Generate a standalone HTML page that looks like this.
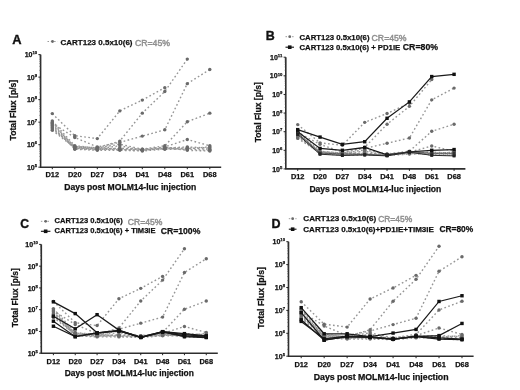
<!DOCTYPE html>
<html><head><meta charset="utf-8"><style>
html,body{margin:0;padding:0;background:#fff;}
body{width:520px;height:390px;overflow:hidden;}
svg{display:block;font-family:"Liberation Sans", sans-serif;filter:blur(0.4px);}

</style></head><body>
<svg width="520" height="390" viewBox="0 0 520 390">
<rect width="520" height="390" fill="#fff"/>
<polyline points="52.30,113.60 74.80,135.67 97.30,138.60 119.80,110.90 142.30,100.09 164.80,87.70" fill="none" stroke="#969696" stroke-width="1.4" stroke-dasharray="1.7 2.4"/>
<polyline points="52.30,121.03 74.80,145.81 97.30,148.06 119.80,141.08 142.30,113.15 164.80,91.53 187.30,59.10" fill="none" stroke="#969696" stroke-width="1.4" stroke-dasharray="1.7 2.4"/>
<polyline points="52.30,123.29 74.80,137.47 97.30,146.93 119.80,142.43 142.30,136.12 164.80,129.82 187.30,83.65 209.80,69.46" fill="none" stroke="#969696" stroke-width="1.4" stroke-dasharray="1.7 2.4"/>
<polyline points="52.30,125.54 74.80,146.93 97.30,148.06 119.80,144.23 142.30,149.18 164.80,145.81 187.30,121.71 209.80,113.15" fill="none" stroke="#969696" stroke-width="1.4" stroke-dasharray="1.7 2.4"/>
<polyline points="52.30,127.79 74.80,148.06 97.30,149.18 119.80,148.06 142.30,149.63 164.80,146.93 187.30,139.50 209.80,145.81" fill="none" stroke="#969696" stroke-width="1.4" stroke-dasharray="1.7 2.4"/>
<polyline points="52.30,124.41 74.80,146.48 97.30,147.83 119.80,149.18 142.30,150.31 164.80,148.06 187.30,146.93 209.80,148.06" fill="none" stroke="#969696" stroke-width="1.4" stroke-dasharray="1.7 2.4"/>
<polyline points="52.30,126.66 74.80,149.18 97.30,150.31 119.80,150.31 142.30,150.99 164.80,149.18 187.30,149.18 209.80,150.31" fill="none" stroke="#969696" stroke-width="1.4" stroke-dasharray="1.7 2.4"/>
<polyline points="52.30,130.27 74.80,147.83 97.30,149.18 119.80,149.63 142.30,150.31 164.80,148.06 187.30,148.06 209.80,149.18" fill="none" stroke="#969696" stroke-width="1.4" stroke-dasharray="1.7 2.4"/>
<polyline points="52.30,122.16 74.80,148.73 97.30,149.63 119.80,148.73 142.30,149.18 164.80,147.38 187.30,150.31 209.80,150.99" fill="none" stroke="#969696" stroke-width="1.4" stroke-dasharray="1.7 2.4"/>
<polyline points="52.30,128.92 74.80,146.93 97.30,148.73 119.80,145.81 142.30,150.08 164.80,148.73 187.30,148.73 209.80,146.93" fill="none" stroke="#969696" stroke-width="1.4" stroke-dasharray="1.7 2.4"/>
<circle cx="52.30" cy="113.60" r="1.7" fill="#6a6a6a"/>
<circle cx="74.80" cy="135.67" r="1.7" fill="#6a6a6a"/>
<circle cx="97.30" cy="138.60" r="1.7" fill="#6a6a6a"/>
<circle cx="119.80" cy="110.90" r="1.7" fill="#6a6a6a"/>
<circle cx="142.30" cy="100.09" r="1.7" fill="#6a6a6a"/>
<circle cx="164.80" cy="87.70" r="1.7" fill="#6a6a6a"/>
<circle cx="52.30" cy="121.03" r="1.7" fill="#6a6a6a"/>
<circle cx="74.80" cy="145.81" r="1.7" fill="#6a6a6a"/>
<circle cx="97.30" cy="148.06" r="1.7" fill="#6a6a6a"/>
<circle cx="119.80" cy="141.08" r="1.7" fill="#6a6a6a"/>
<circle cx="142.30" cy="113.15" r="1.7" fill="#6a6a6a"/>
<circle cx="164.80" cy="91.53" r="1.7" fill="#6a6a6a"/>
<circle cx="187.30" cy="59.10" r="1.7" fill="#6a6a6a"/>
<circle cx="52.30" cy="123.29" r="1.7" fill="#6a6a6a"/>
<circle cx="74.80" cy="137.47" r="1.7" fill="#6a6a6a"/>
<circle cx="97.30" cy="146.93" r="1.7" fill="#6a6a6a"/>
<circle cx="119.80" cy="142.43" r="1.7" fill="#6a6a6a"/>
<circle cx="142.30" cy="136.12" r="1.7" fill="#6a6a6a"/>
<circle cx="164.80" cy="129.82" r="1.7" fill="#6a6a6a"/>
<circle cx="187.30" cy="83.65" r="1.7" fill="#6a6a6a"/>
<circle cx="209.80" cy="69.46" r="1.7" fill="#6a6a6a"/>
<circle cx="52.30" cy="125.54" r="1.7" fill="#6a6a6a"/>
<circle cx="74.80" cy="146.93" r="1.7" fill="#6a6a6a"/>
<circle cx="97.30" cy="148.06" r="1.7" fill="#6a6a6a"/>
<circle cx="119.80" cy="144.23" r="1.7" fill="#6a6a6a"/>
<circle cx="142.30" cy="149.18" r="1.7" fill="#6a6a6a"/>
<circle cx="164.80" cy="145.81" r="1.7" fill="#6a6a6a"/>
<circle cx="187.30" cy="121.71" r="1.7" fill="#6a6a6a"/>
<circle cx="209.80" cy="113.15" r="1.7" fill="#6a6a6a"/>
<circle cx="52.30" cy="127.79" r="1.7" fill="#6a6a6a"/>
<circle cx="74.80" cy="148.06" r="1.7" fill="#6a6a6a"/>
<circle cx="97.30" cy="149.18" r="1.7" fill="#6a6a6a"/>
<circle cx="119.80" cy="148.06" r="1.7" fill="#6a6a6a"/>
<circle cx="142.30" cy="149.63" r="1.7" fill="#6a6a6a"/>
<circle cx="164.80" cy="146.93" r="1.7" fill="#6a6a6a"/>
<circle cx="187.30" cy="139.50" r="1.7" fill="#6a6a6a"/>
<circle cx="209.80" cy="145.81" r="1.7" fill="#6a6a6a"/>
<circle cx="52.30" cy="124.41" r="1.7" fill="#6a6a6a"/>
<circle cx="74.80" cy="146.48" r="1.7" fill="#6a6a6a"/>
<circle cx="97.30" cy="147.83" r="1.7" fill="#6a6a6a"/>
<circle cx="119.80" cy="149.18" r="1.7" fill="#6a6a6a"/>
<circle cx="142.30" cy="150.31" r="1.7" fill="#6a6a6a"/>
<circle cx="164.80" cy="148.06" r="1.7" fill="#6a6a6a"/>
<circle cx="187.30" cy="146.93" r="1.7" fill="#6a6a6a"/>
<circle cx="209.80" cy="148.06" r="1.7" fill="#6a6a6a"/>
<circle cx="52.30" cy="126.66" r="1.7" fill="#6a6a6a"/>
<circle cx="74.80" cy="149.18" r="1.7" fill="#6a6a6a"/>
<circle cx="97.30" cy="150.31" r="1.7" fill="#6a6a6a"/>
<circle cx="119.80" cy="150.31" r="1.7" fill="#6a6a6a"/>
<circle cx="142.30" cy="150.99" r="1.7" fill="#6a6a6a"/>
<circle cx="164.80" cy="149.18" r="1.7" fill="#6a6a6a"/>
<circle cx="187.30" cy="149.18" r="1.7" fill="#6a6a6a"/>
<circle cx="209.80" cy="150.31" r="1.7" fill="#6a6a6a"/>
<circle cx="52.30" cy="130.27" r="1.7" fill="#6a6a6a"/>
<circle cx="74.80" cy="147.83" r="1.7" fill="#6a6a6a"/>
<circle cx="97.30" cy="149.18" r="1.7" fill="#6a6a6a"/>
<circle cx="119.80" cy="149.63" r="1.7" fill="#6a6a6a"/>
<circle cx="142.30" cy="150.31" r="1.7" fill="#6a6a6a"/>
<circle cx="164.80" cy="148.06" r="1.7" fill="#6a6a6a"/>
<circle cx="187.30" cy="148.06" r="1.7" fill="#6a6a6a"/>
<circle cx="209.80" cy="149.18" r="1.7" fill="#6a6a6a"/>
<circle cx="52.30" cy="122.16" r="1.7" fill="#6a6a6a"/>
<circle cx="74.80" cy="148.73" r="1.7" fill="#6a6a6a"/>
<circle cx="97.30" cy="149.63" r="1.7" fill="#6a6a6a"/>
<circle cx="119.80" cy="148.73" r="1.7" fill="#6a6a6a"/>
<circle cx="142.30" cy="149.18" r="1.7" fill="#6a6a6a"/>
<circle cx="164.80" cy="147.38" r="1.7" fill="#6a6a6a"/>
<circle cx="187.30" cy="150.31" r="1.7" fill="#6a6a6a"/>
<circle cx="209.80" cy="150.99" r="1.7" fill="#6a6a6a"/>
<circle cx="52.30" cy="128.92" r="1.7" fill="#6a6a6a"/>
<circle cx="74.80" cy="146.93" r="1.7" fill="#6a6a6a"/>
<circle cx="97.30" cy="148.73" r="1.7" fill="#6a6a6a"/>
<circle cx="119.80" cy="145.81" r="1.7" fill="#6a6a6a"/>
<circle cx="142.30" cy="150.08" r="1.7" fill="#6a6a6a"/>
<circle cx="164.80" cy="148.73" r="1.7" fill="#6a6a6a"/>
<circle cx="187.30" cy="148.73" r="1.7" fill="#6a6a6a"/>
<circle cx="209.80" cy="146.93" r="1.7" fill="#6a6a6a"/>
<line x1="40.60" y1="54.60" x2="40.60" y2="167.20" stroke="#2e2e2e" stroke-width="1.6"/>
<line x1="40.00" y1="167.20" x2="221.20" y2="167.20" stroke="#2e2e2e" stroke-width="1.6"/>
<line x1="38.40" y1="167.20" x2="40.60" y2="167.20" stroke="#222" stroke-width="1"/>
<line x1="39.40" y1="160.42" x2="40.60" y2="160.42" stroke="#444" stroke-width="0.6"/>
<line x1="39.40" y1="156.46" x2="40.60" y2="156.46" stroke="#444" stroke-width="0.6"/>
<line x1="39.40" y1="153.64" x2="40.60" y2="153.64" stroke="#444" stroke-width="0.6"/>
<line x1="39.40" y1="151.46" x2="40.60" y2="151.46" stroke="#444" stroke-width="0.6"/>
<line x1="39.40" y1="149.68" x2="40.60" y2="149.68" stroke="#444" stroke-width="0.6"/>
<line x1="39.40" y1="148.17" x2="40.60" y2="148.17" stroke="#444" stroke-width="0.6"/>
<line x1="39.40" y1="146.86" x2="40.60" y2="146.86" stroke="#444" stroke-width="0.6"/>
<line x1="39.40" y1="145.71" x2="40.60" y2="145.71" stroke="#444" stroke-width="0.6"/>
<text x="37.10" y="169.80" font-size="7" font-weight="bold" fill="#111" text-anchor="end" stroke="#111" stroke-width="0.25"><tspan>10</tspan><tspan font-size="4.2" dy="-2.9">5</tspan></text>
<line x1="38.40" y1="144.68" x2="40.60" y2="144.68" stroke="#222" stroke-width="1"/>
<line x1="39.40" y1="137.90" x2="40.60" y2="137.90" stroke="#444" stroke-width="0.6"/>
<line x1="39.40" y1="133.94" x2="40.60" y2="133.94" stroke="#444" stroke-width="0.6"/>
<line x1="39.40" y1="131.12" x2="40.60" y2="131.12" stroke="#444" stroke-width="0.6"/>
<line x1="39.40" y1="128.94" x2="40.60" y2="128.94" stroke="#444" stroke-width="0.6"/>
<line x1="39.40" y1="127.16" x2="40.60" y2="127.16" stroke="#444" stroke-width="0.6"/>
<line x1="39.40" y1="125.65" x2="40.60" y2="125.65" stroke="#444" stroke-width="0.6"/>
<line x1="39.40" y1="124.34" x2="40.60" y2="124.34" stroke="#444" stroke-width="0.6"/>
<line x1="39.40" y1="123.19" x2="40.60" y2="123.19" stroke="#444" stroke-width="0.6"/>
<text x="37.10" y="147.28" font-size="7" font-weight="bold" fill="#111" text-anchor="end" stroke="#111" stroke-width="0.25"><tspan>10</tspan><tspan font-size="4.2" dy="-2.9">6</tspan></text>
<line x1="38.40" y1="122.16" x2="40.60" y2="122.16" stroke="#222" stroke-width="1"/>
<line x1="39.40" y1="115.38" x2="40.60" y2="115.38" stroke="#444" stroke-width="0.6"/>
<line x1="39.40" y1="111.42" x2="40.60" y2="111.42" stroke="#444" stroke-width="0.6"/>
<line x1="39.40" y1="108.60" x2="40.60" y2="108.60" stroke="#444" stroke-width="0.6"/>
<line x1="39.40" y1="106.42" x2="40.60" y2="106.42" stroke="#444" stroke-width="0.6"/>
<line x1="39.40" y1="104.64" x2="40.60" y2="104.64" stroke="#444" stroke-width="0.6"/>
<line x1="39.40" y1="103.13" x2="40.60" y2="103.13" stroke="#444" stroke-width="0.6"/>
<line x1="39.40" y1="101.82" x2="40.60" y2="101.82" stroke="#444" stroke-width="0.6"/>
<line x1="39.40" y1="100.67" x2="40.60" y2="100.67" stroke="#444" stroke-width="0.6"/>
<text x="37.10" y="124.76" font-size="7" font-weight="bold" fill="#111" text-anchor="end" stroke="#111" stroke-width="0.25"><tspan>10</tspan><tspan font-size="4.2" dy="-2.9">7</tspan></text>
<line x1="38.40" y1="99.64" x2="40.60" y2="99.64" stroke="#222" stroke-width="1"/>
<line x1="39.40" y1="92.86" x2="40.60" y2="92.86" stroke="#444" stroke-width="0.6"/>
<line x1="39.40" y1="88.90" x2="40.60" y2="88.90" stroke="#444" stroke-width="0.6"/>
<line x1="39.40" y1="86.08" x2="40.60" y2="86.08" stroke="#444" stroke-width="0.6"/>
<line x1="39.40" y1="83.90" x2="40.60" y2="83.90" stroke="#444" stroke-width="0.6"/>
<line x1="39.40" y1="82.12" x2="40.60" y2="82.12" stroke="#444" stroke-width="0.6"/>
<line x1="39.40" y1="80.61" x2="40.60" y2="80.61" stroke="#444" stroke-width="0.6"/>
<line x1="39.40" y1="79.30" x2="40.60" y2="79.30" stroke="#444" stroke-width="0.6"/>
<line x1="39.40" y1="78.15" x2="40.60" y2="78.15" stroke="#444" stroke-width="0.6"/>
<text x="37.10" y="102.24" font-size="7" font-weight="bold" fill="#111" text-anchor="end" stroke="#111" stroke-width="0.25"><tspan>10</tspan><tspan font-size="4.2" dy="-2.9">8</tspan></text>
<line x1="38.40" y1="77.12" x2="40.60" y2="77.12" stroke="#222" stroke-width="1"/>
<line x1="39.40" y1="70.34" x2="40.60" y2="70.34" stroke="#444" stroke-width="0.6"/>
<line x1="39.40" y1="66.38" x2="40.60" y2="66.38" stroke="#444" stroke-width="0.6"/>
<line x1="39.40" y1="63.56" x2="40.60" y2="63.56" stroke="#444" stroke-width="0.6"/>
<line x1="39.40" y1="61.38" x2="40.60" y2="61.38" stroke="#444" stroke-width="0.6"/>
<line x1="39.40" y1="59.60" x2="40.60" y2="59.60" stroke="#444" stroke-width="0.6"/>
<line x1="39.40" y1="58.09" x2="40.60" y2="58.09" stroke="#444" stroke-width="0.6"/>
<line x1="39.40" y1="56.78" x2="40.60" y2="56.78" stroke="#444" stroke-width="0.6"/>
<line x1="39.40" y1="55.63" x2="40.60" y2="55.63" stroke="#444" stroke-width="0.6"/>
<text x="37.10" y="79.72" font-size="7" font-weight="bold" fill="#111" text-anchor="end" stroke="#111" stroke-width="0.25"><tspan>10</tspan><tspan font-size="4.2" dy="-2.9">9</tspan></text>
<line x1="38.40" y1="54.60" x2="40.60" y2="54.60" stroke="#222" stroke-width="1"/>
<text x="37.10" y="57.20" font-size="7" font-weight="bold" fill="#111" text-anchor="end" stroke="#111" stroke-width="0.25"><tspan>10</tspan><tspan font-size="4.2" dy="-2.9">10</tspan></text>
<line x1="52.30" y1="167.20" x2="52.30" y2="169.20" stroke="#222" stroke-width="1"/>
<text x="52.30" y="177.40" font-size="7.4" font-weight="bold" fill="#111" text-anchor="middle"  stroke="#111" stroke-width="0.25">D12</text>
<line x1="74.80" y1="167.20" x2="74.80" y2="169.20" stroke="#222" stroke-width="1"/>
<text x="74.80" y="177.40" font-size="7.4" font-weight="bold" fill="#111" text-anchor="middle"  stroke="#111" stroke-width="0.25">D20</text>
<line x1="97.30" y1="167.20" x2="97.30" y2="169.20" stroke="#222" stroke-width="1"/>
<text x="97.30" y="177.40" font-size="7.4" font-weight="bold" fill="#111" text-anchor="middle"  stroke="#111" stroke-width="0.25">D27</text>
<line x1="119.80" y1="167.20" x2="119.80" y2="169.20" stroke="#222" stroke-width="1"/>
<text x="119.80" y="177.40" font-size="7.4" font-weight="bold" fill="#111" text-anchor="middle"  stroke="#111" stroke-width="0.25">D34</text>
<line x1="142.30" y1="167.20" x2="142.30" y2="169.20" stroke="#222" stroke-width="1"/>
<text x="142.30" y="177.40" font-size="7.4" font-weight="bold" fill="#111" text-anchor="middle"  stroke="#111" stroke-width="0.25">D41</text>
<line x1="164.80" y1="167.20" x2="164.80" y2="169.20" stroke="#222" stroke-width="1"/>
<text x="164.80" y="177.40" font-size="7.4" font-weight="bold" fill="#111" text-anchor="middle"  stroke="#111" stroke-width="0.25">D48</text>
<line x1="187.30" y1="167.20" x2="187.30" y2="169.20" stroke="#222" stroke-width="1"/>
<text x="187.30" y="177.40" font-size="7.4" font-weight="bold" fill="#111" text-anchor="middle"  stroke="#111" stroke-width="0.25">D61</text>
<line x1="209.80" y1="167.20" x2="209.80" y2="169.20" stroke="#222" stroke-width="1"/>
<text x="209.80" y="177.40" font-size="7.4" font-weight="bold" fill="#111" text-anchor="middle"  stroke="#111" stroke-width="0.25">D68</text>
<text x="64.20" y="190.40" font-size="8.6" font-weight="bold" fill="#111" textLength="132.10" lengthAdjust="spacingAndGlyphs" stroke="#111" stroke-width="0.25">Days post MOLM14-luc injection</text>
<text x="-30.60" y="0" transform="translate(16.20,109.80) rotate(-90)" font-size="8.6" font-weight="bold" fill="#111" textLength="60.60" lengthAdjust="spacingAndGlyphs" stroke="#111" stroke-width="0.25">Total Flux [p/s]</text>
<text x="12.20" y="43.50" font-size="12.9" font-weight="bold" fill="#111" stroke-width="0.35" stroke="#111">A</text>
<polyline points="297.70,124.60 320.04,142.85 342.38,145.27 364.72,122.37 387.06,113.43 409.40,103.19" fill="none" stroke="#969696" stroke-width="1.4" stroke-dasharray="1.7 2.4"/>
<polyline points="297.70,130.75 320.04,151.23 342.38,153.09 364.72,147.32 387.06,124.23 409.40,106.36 431.74,79.54" fill="none" stroke="#969696" stroke-width="1.4" stroke-dasharray="1.7 2.4"/>
<polyline points="297.70,132.61 320.04,144.34 342.38,152.16 364.72,148.44 387.06,143.22 409.40,138.01 431.74,99.84 454.08,88.11" fill="none" stroke="#969696" stroke-width="1.4" stroke-dasharray="1.7 2.4"/>
<polyline points="297.70,134.47 320.04,152.16 342.38,153.09 364.72,149.93 387.06,154.02 409.40,151.23 431.74,131.31 454.08,124.23" fill="none" stroke="#969696" stroke-width="1.4" stroke-dasharray="1.7 2.4"/>
<polyline points="297.70,136.34 320.04,153.09 342.38,154.02 364.72,153.09 387.06,154.40 409.40,152.16 431.74,146.02 454.08,151.23" fill="none" stroke="#969696" stroke-width="1.4" stroke-dasharray="1.7 2.4"/>
<polyline points="297.70,133.54 320.04,151.79 342.38,152.91 364.72,154.02 387.06,154.96 409.40,153.09 431.74,152.16 454.08,153.09" fill="none" stroke="#969696" stroke-width="1.4" stroke-dasharray="1.7 2.4"/>
<polyline points="297.70,135.40 320.04,154.02 342.38,154.96 364.72,154.96 387.06,155.51 409.40,154.02 431.74,154.02 454.08,154.96" fill="none" stroke="#969696" stroke-width="1.4" stroke-dasharray="1.7 2.4"/>
<polyline points="297.70,138.38 320.04,152.91 342.38,154.02 364.72,154.40 387.06,154.96 409.40,153.09 431.74,153.09 454.08,154.02" fill="none" stroke="#969696" stroke-width="1.4" stroke-dasharray="1.7 2.4"/>
<polyline points="297.70,131.68 320.04,153.65 342.38,154.40 364.72,153.65 387.06,154.02 409.40,152.53 431.74,154.96 454.08,155.51" fill="none" stroke="#969696" stroke-width="1.4" stroke-dasharray="1.7 2.4"/>
<polyline points="297.70,137.27 320.04,152.16 342.38,153.65 364.72,151.23 387.06,154.77 409.40,153.65 431.74,153.65 454.08,152.16" fill="none" stroke="#969696" stroke-width="1.4" stroke-dasharray="1.7 2.4"/>
<circle cx="297.70" cy="124.60" r="1.7" fill="#6a6a6a"/>
<circle cx="320.04" cy="142.85" r="1.7" fill="#6a6a6a"/>
<circle cx="342.38" cy="145.27" r="1.7" fill="#6a6a6a"/>
<circle cx="364.72" cy="122.37" r="1.7" fill="#6a6a6a"/>
<circle cx="387.06" cy="113.43" r="1.7" fill="#6a6a6a"/>
<circle cx="409.40" cy="103.19" r="1.7" fill="#6a6a6a"/>
<circle cx="297.70" cy="130.75" r="1.7" fill="#6a6a6a"/>
<circle cx="320.04" cy="151.23" r="1.7" fill="#6a6a6a"/>
<circle cx="342.38" cy="153.09" r="1.7" fill="#6a6a6a"/>
<circle cx="364.72" cy="147.32" r="1.7" fill="#6a6a6a"/>
<circle cx="387.06" cy="124.23" r="1.7" fill="#6a6a6a"/>
<circle cx="409.40" cy="106.36" r="1.7" fill="#6a6a6a"/>
<circle cx="431.74" cy="79.54" r="1.7" fill="#6a6a6a"/>
<circle cx="297.70" cy="132.61" r="1.7" fill="#6a6a6a"/>
<circle cx="320.04" cy="144.34" r="1.7" fill="#6a6a6a"/>
<circle cx="342.38" cy="152.16" r="1.7" fill="#6a6a6a"/>
<circle cx="364.72" cy="148.44" r="1.7" fill="#6a6a6a"/>
<circle cx="387.06" cy="143.22" r="1.7" fill="#6a6a6a"/>
<circle cx="409.40" cy="138.01" r="1.7" fill="#6a6a6a"/>
<circle cx="431.74" cy="99.84" r="1.7" fill="#6a6a6a"/>
<circle cx="454.08" cy="88.11" r="1.7" fill="#6a6a6a"/>
<circle cx="297.70" cy="134.47" r="1.7" fill="#6a6a6a"/>
<circle cx="320.04" cy="152.16" r="1.7" fill="#6a6a6a"/>
<circle cx="342.38" cy="153.09" r="1.7" fill="#6a6a6a"/>
<circle cx="364.72" cy="149.93" r="1.7" fill="#6a6a6a"/>
<circle cx="387.06" cy="154.02" r="1.7" fill="#6a6a6a"/>
<circle cx="409.40" cy="151.23" r="1.7" fill="#6a6a6a"/>
<circle cx="431.74" cy="131.31" r="1.7" fill="#6a6a6a"/>
<circle cx="454.08" cy="124.23" r="1.7" fill="#6a6a6a"/>
<circle cx="297.70" cy="136.34" r="1.7" fill="#6a6a6a"/>
<circle cx="320.04" cy="153.09" r="1.7" fill="#6a6a6a"/>
<circle cx="342.38" cy="154.02" r="1.7" fill="#6a6a6a"/>
<circle cx="364.72" cy="153.09" r="1.7" fill="#6a6a6a"/>
<circle cx="387.06" cy="154.40" r="1.7" fill="#6a6a6a"/>
<circle cx="409.40" cy="152.16" r="1.7" fill="#6a6a6a"/>
<circle cx="431.74" cy="146.02" r="1.7" fill="#6a6a6a"/>
<circle cx="454.08" cy="151.23" r="1.7" fill="#6a6a6a"/>
<circle cx="297.70" cy="133.54" r="1.7" fill="#6a6a6a"/>
<circle cx="320.04" cy="151.79" r="1.7" fill="#6a6a6a"/>
<circle cx="342.38" cy="152.91" r="1.7" fill="#6a6a6a"/>
<circle cx="364.72" cy="154.02" r="1.7" fill="#6a6a6a"/>
<circle cx="387.06" cy="154.96" r="1.7" fill="#6a6a6a"/>
<circle cx="409.40" cy="153.09" r="1.7" fill="#6a6a6a"/>
<circle cx="431.74" cy="152.16" r="1.7" fill="#6a6a6a"/>
<circle cx="454.08" cy="153.09" r="1.7" fill="#6a6a6a"/>
<circle cx="297.70" cy="135.40" r="1.7" fill="#6a6a6a"/>
<circle cx="320.04" cy="154.02" r="1.7" fill="#6a6a6a"/>
<circle cx="342.38" cy="154.96" r="1.7" fill="#6a6a6a"/>
<circle cx="364.72" cy="154.96" r="1.7" fill="#6a6a6a"/>
<circle cx="387.06" cy="155.51" r="1.7" fill="#6a6a6a"/>
<circle cx="409.40" cy="154.02" r="1.7" fill="#6a6a6a"/>
<circle cx="431.74" cy="154.02" r="1.7" fill="#6a6a6a"/>
<circle cx="454.08" cy="154.96" r="1.7" fill="#6a6a6a"/>
<circle cx="297.70" cy="138.38" r="1.7" fill="#6a6a6a"/>
<circle cx="320.04" cy="152.91" r="1.7" fill="#6a6a6a"/>
<circle cx="342.38" cy="154.02" r="1.7" fill="#6a6a6a"/>
<circle cx="364.72" cy="154.40" r="1.7" fill="#6a6a6a"/>
<circle cx="387.06" cy="154.96" r="1.7" fill="#6a6a6a"/>
<circle cx="409.40" cy="153.09" r="1.7" fill="#6a6a6a"/>
<circle cx="431.74" cy="153.09" r="1.7" fill="#6a6a6a"/>
<circle cx="454.08" cy="154.02" r="1.7" fill="#6a6a6a"/>
<circle cx="297.70" cy="131.68" r="1.7" fill="#6a6a6a"/>
<circle cx="320.04" cy="153.65" r="1.7" fill="#6a6a6a"/>
<circle cx="342.38" cy="154.40" r="1.7" fill="#6a6a6a"/>
<circle cx="364.72" cy="153.65" r="1.7" fill="#6a6a6a"/>
<circle cx="387.06" cy="154.02" r="1.7" fill="#6a6a6a"/>
<circle cx="409.40" cy="152.53" r="1.7" fill="#6a6a6a"/>
<circle cx="431.74" cy="154.96" r="1.7" fill="#6a6a6a"/>
<circle cx="454.08" cy="155.51" r="1.7" fill="#6a6a6a"/>
<circle cx="297.70" cy="137.27" r="1.7" fill="#6a6a6a"/>
<circle cx="320.04" cy="152.16" r="1.7" fill="#6a6a6a"/>
<circle cx="342.38" cy="153.65" r="1.7" fill="#6a6a6a"/>
<circle cx="364.72" cy="151.23" r="1.7" fill="#6a6a6a"/>
<circle cx="387.06" cy="154.77" r="1.7" fill="#6a6a6a"/>
<circle cx="409.40" cy="153.65" r="1.7" fill="#6a6a6a"/>
<circle cx="431.74" cy="153.65" r="1.7" fill="#6a6a6a"/>
<circle cx="454.08" cy="152.16" r="1.7" fill="#6a6a6a"/>
<polyline points="297.70,129.63 320.04,137.08 342.38,144.34 364.72,141.73 387.06,118.27 409.40,101.89 431.74,76.56 454.08,74.33" fill="none" stroke="#1a1a1a" stroke-width="1.25"/>
<polyline points="297.70,131.68 320.04,148.44 342.38,150.30 364.72,147.51 387.06,154.96 409.40,151.79 431.74,150.30 454.08,149.56" fill="none" stroke="#1a1a1a" stroke-width="1.25"/>
<polyline points="297.70,133.17 320.04,153.09 342.38,154.02 364.72,154.40 387.06,155.51 409.40,151.79 431.74,153.28 454.08,153.28" fill="none" stroke="#444" stroke-width="0.8"/>
<polyline points="297.70,134.47 320.04,154.21 342.38,155.51 364.72,154.96 387.06,155.89 409.40,152.16 431.74,155.33 454.08,155.89" fill="none" stroke="#2a2a2a" stroke-width="1.0"/>
<rect x="296.00" y="127.93" width="3.4" height="3.4" fill="#111"/>
<rect x="318.34" y="135.38" width="3.4" height="3.4" fill="#111"/>
<rect x="340.68" y="142.64" width="3.4" height="3.4" fill="#111"/>
<rect x="363.02" y="140.03" width="3.4" height="3.4" fill="#111"/>
<rect x="385.36" y="116.57" width="3.4" height="3.4" fill="#111"/>
<rect x="407.70" y="100.19" width="3.4" height="3.4" fill="#111"/>
<rect x="430.04" y="74.86" width="3.4" height="3.4" fill="#111"/>
<rect x="452.38" y="72.63" width="3.4" height="3.4" fill="#111"/>
<rect x="296.00" y="129.98" width="3.4" height="3.4" fill="#111"/>
<rect x="318.34" y="146.74" width="3.4" height="3.4" fill="#111"/>
<rect x="340.68" y="148.60" width="3.4" height="3.4" fill="#111"/>
<rect x="363.02" y="145.81" width="3.4" height="3.4" fill="#111"/>
<rect x="385.36" y="153.26" width="3.4" height="3.4" fill="#111"/>
<rect x="407.70" y="150.09" width="3.4" height="3.4" fill="#111"/>
<rect x="430.04" y="148.60" width="3.4" height="3.4" fill="#111"/>
<rect x="452.38" y="147.86" width="3.4" height="3.4" fill="#111"/>
<rect x="296.30" y="131.77" width="2.8" height="2.8" fill="#333"/>
<rect x="318.64" y="151.69" width="2.8" height="2.8" fill="#333"/>
<rect x="340.98" y="152.62" width="2.8" height="2.8" fill="#333"/>
<rect x="363.32" y="153.00" width="2.8" height="2.8" fill="#333"/>
<rect x="385.66" y="154.11" width="2.8" height="2.8" fill="#333"/>
<rect x="408.00" y="150.39" width="2.8" height="2.8" fill="#333"/>
<rect x="430.34" y="151.88" width="2.8" height="2.8" fill="#333"/>
<rect x="452.68" y="151.88" width="2.8" height="2.8" fill="#333"/>
<rect x="296.20" y="132.97" width="3.0" height="3.0" fill="#222"/>
<rect x="318.54" y="152.71" width="3.0" height="3.0" fill="#222"/>
<rect x="340.88" y="154.01" width="3.0" height="3.0" fill="#222"/>
<rect x="363.22" y="153.46" width="3.0" height="3.0" fill="#222"/>
<rect x="385.56" y="154.39" width="3.0" height="3.0" fill="#222"/>
<rect x="407.90" y="150.66" width="3.0" height="3.0" fill="#222"/>
<rect x="430.24" y="153.83" width="3.0" height="3.0" fill="#222"/>
<rect x="452.58" y="154.39" width="3.0" height="3.0" fill="#222"/>
<line x1="285.80" y1="57.20" x2="285.80" y2="168.92" stroke="#2e2e2e" stroke-width="1.6"/>
<line x1="285.20" y1="168.92" x2="465.40" y2="168.92" stroke="#2e2e2e" stroke-width="1.6"/>
<line x1="283.60" y1="168.92" x2="285.80" y2="168.92" stroke="#222" stroke-width="1"/>
<line x1="284.60" y1="163.31" x2="285.80" y2="163.31" stroke="#444" stroke-width="0.6"/>
<line x1="284.60" y1="160.04" x2="285.80" y2="160.04" stroke="#444" stroke-width="0.6"/>
<line x1="284.60" y1="157.71" x2="285.80" y2="157.71" stroke="#444" stroke-width="0.6"/>
<line x1="284.60" y1="155.91" x2="285.80" y2="155.91" stroke="#444" stroke-width="0.6"/>
<line x1="284.60" y1="154.43" x2="285.80" y2="154.43" stroke="#444" stroke-width="0.6"/>
<line x1="284.60" y1="153.18" x2="285.80" y2="153.18" stroke="#444" stroke-width="0.6"/>
<line x1="284.60" y1="152.10" x2="285.80" y2="152.10" stroke="#444" stroke-width="0.6"/>
<line x1="284.60" y1="151.15" x2="285.80" y2="151.15" stroke="#444" stroke-width="0.6"/>
<text x="282.30" y="171.52" font-size="7" font-weight="bold" fill="#111" text-anchor="end" stroke="#111" stroke-width="0.25"><tspan>10</tspan><tspan font-size="4.2" dy="-2.9">5</tspan></text>
<line x1="283.60" y1="150.30" x2="285.80" y2="150.30" stroke="#222" stroke-width="1"/>
<line x1="284.60" y1="144.69" x2="285.80" y2="144.69" stroke="#444" stroke-width="0.6"/>
<line x1="284.60" y1="141.42" x2="285.80" y2="141.42" stroke="#444" stroke-width="0.6"/>
<line x1="284.60" y1="139.09" x2="285.80" y2="139.09" stroke="#444" stroke-width="0.6"/>
<line x1="284.60" y1="137.29" x2="285.80" y2="137.29" stroke="#444" stroke-width="0.6"/>
<line x1="284.60" y1="135.81" x2="285.80" y2="135.81" stroke="#444" stroke-width="0.6"/>
<line x1="284.60" y1="134.56" x2="285.80" y2="134.56" stroke="#444" stroke-width="0.6"/>
<line x1="284.60" y1="133.48" x2="285.80" y2="133.48" stroke="#444" stroke-width="0.6"/>
<line x1="284.60" y1="132.53" x2="285.80" y2="132.53" stroke="#444" stroke-width="0.6"/>
<text x="282.30" y="152.90" font-size="7" font-weight="bold" fill="#111" text-anchor="end" stroke="#111" stroke-width="0.25"><tspan>10</tspan><tspan font-size="4.2" dy="-2.9">6</tspan></text>
<line x1="283.60" y1="131.68" x2="285.80" y2="131.68" stroke="#222" stroke-width="1"/>
<line x1="284.60" y1="126.07" x2="285.80" y2="126.07" stroke="#444" stroke-width="0.6"/>
<line x1="284.60" y1="122.80" x2="285.80" y2="122.80" stroke="#444" stroke-width="0.6"/>
<line x1="284.60" y1="120.47" x2="285.80" y2="120.47" stroke="#444" stroke-width="0.6"/>
<line x1="284.60" y1="118.67" x2="285.80" y2="118.67" stroke="#444" stroke-width="0.6"/>
<line x1="284.60" y1="117.19" x2="285.80" y2="117.19" stroke="#444" stroke-width="0.6"/>
<line x1="284.60" y1="115.94" x2="285.80" y2="115.94" stroke="#444" stroke-width="0.6"/>
<line x1="284.60" y1="114.86" x2="285.80" y2="114.86" stroke="#444" stroke-width="0.6"/>
<line x1="284.60" y1="113.91" x2="285.80" y2="113.91" stroke="#444" stroke-width="0.6"/>
<text x="282.30" y="134.28" font-size="7" font-weight="bold" fill="#111" text-anchor="end" stroke="#111" stroke-width="0.25"><tspan>10</tspan><tspan font-size="4.2" dy="-2.9">7</tspan></text>
<line x1="283.60" y1="113.06" x2="285.80" y2="113.06" stroke="#222" stroke-width="1"/>
<line x1="284.60" y1="107.45" x2="285.80" y2="107.45" stroke="#444" stroke-width="0.6"/>
<line x1="284.60" y1="104.18" x2="285.80" y2="104.18" stroke="#444" stroke-width="0.6"/>
<line x1="284.60" y1="101.85" x2="285.80" y2="101.85" stroke="#444" stroke-width="0.6"/>
<line x1="284.60" y1="100.05" x2="285.80" y2="100.05" stroke="#444" stroke-width="0.6"/>
<line x1="284.60" y1="98.57" x2="285.80" y2="98.57" stroke="#444" stroke-width="0.6"/>
<line x1="284.60" y1="97.32" x2="285.80" y2="97.32" stroke="#444" stroke-width="0.6"/>
<line x1="284.60" y1="96.24" x2="285.80" y2="96.24" stroke="#444" stroke-width="0.6"/>
<line x1="284.60" y1="95.29" x2="285.80" y2="95.29" stroke="#444" stroke-width="0.6"/>
<text x="282.30" y="115.66" font-size="7" font-weight="bold" fill="#111" text-anchor="end" stroke="#111" stroke-width="0.25"><tspan>10</tspan><tspan font-size="4.2" dy="-2.9">8</tspan></text>
<line x1="283.60" y1="94.44" x2="285.80" y2="94.44" stroke="#222" stroke-width="1"/>
<line x1="284.60" y1="88.83" x2="285.80" y2="88.83" stroke="#444" stroke-width="0.6"/>
<line x1="284.60" y1="85.56" x2="285.80" y2="85.56" stroke="#444" stroke-width="0.6"/>
<line x1="284.60" y1="83.23" x2="285.80" y2="83.23" stroke="#444" stroke-width="0.6"/>
<line x1="284.60" y1="81.43" x2="285.80" y2="81.43" stroke="#444" stroke-width="0.6"/>
<line x1="284.60" y1="79.95" x2="285.80" y2="79.95" stroke="#444" stroke-width="0.6"/>
<line x1="284.60" y1="78.70" x2="285.80" y2="78.70" stroke="#444" stroke-width="0.6"/>
<line x1="284.60" y1="77.62" x2="285.80" y2="77.62" stroke="#444" stroke-width="0.6"/>
<line x1="284.60" y1="76.67" x2="285.80" y2="76.67" stroke="#444" stroke-width="0.6"/>
<text x="282.30" y="97.04" font-size="7" font-weight="bold" fill="#111" text-anchor="end" stroke="#111" stroke-width="0.25"><tspan>10</tspan><tspan font-size="4.2" dy="-2.9">9</tspan></text>
<line x1="283.60" y1="75.82" x2="285.80" y2="75.82" stroke="#222" stroke-width="1"/>
<line x1="284.60" y1="70.21" x2="285.80" y2="70.21" stroke="#444" stroke-width="0.6"/>
<line x1="284.60" y1="66.94" x2="285.80" y2="66.94" stroke="#444" stroke-width="0.6"/>
<line x1="284.60" y1="64.61" x2="285.80" y2="64.61" stroke="#444" stroke-width="0.6"/>
<line x1="284.60" y1="62.81" x2="285.80" y2="62.81" stroke="#444" stroke-width="0.6"/>
<line x1="284.60" y1="61.33" x2="285.80" y2="61.33" stroke="#444" stroke-width="0.6"/>
<line x1="284.60" y1="60.08" x2="285.80" y2="60.08" stroke="#444" stroke-width="0.6"/>
<line x1="284.60" y1="59.00" x2="285.80" y2="59.00" stroke="#444" stroke-width="0.6"/>
<line x1="284.60" y1="58.05" x2="285.80" y2="58.05" stroke="#444" stroke-width="0.6"/>
<text x="282.30" y="78.42" font-size="7" font-weight="bold" fill="#111" text-anchor="end" stroke="#111" stroke-width="0.25"><tspan>10</tspan><tspan font-size="4.2" dy="-2.9">10</tspan></text>
<line x1="283.60" y1="57.20" x2="285.80" y2="57.20" stroke="#222" stroke-width="1"/>
<text x="282.30" y="59.80" font-size="7" font-weight="bold" fill="#111" text-anchor="end" stroke="#111" stroke-width="0.25"><tspan>10</tspan><tspan font-size="4.2" dy="-2.9">11</tspan></text>
<line x1="297.70" y1="168.92" x2="297.70" y2="170.92" stroke="#222" stroke-width="1"/>
<text x="297.70" y="179.12" font-size="7.4" font-weight="bold" fill="#111" text-anchor="middle"  stroke="#111" stroke-width="0.25">D12</text>
<line x1="320.04" y1="168.92" x2="320.04" y2="170.92" stroke="#222" stroke-width="1"/>
<text x="320.04" y="179.12" font-size="7.4" font-weight="bold" fill="#111" text-anchor="middle"  stroke="#111" stroke-width="0.25">D20</text>
<line x1="342.38" y1="168.92" x2="342.38" y2="170.92" stroke="#222" stroke-width="1"/>
<text x="342.38" y="179.12" font-size="7.4" font-weight="bold" fill="#111" text-anchor="middle"  stroke="#111" stroke-width="0.25">D27</text>
<line x1="364.72" y1="168.92" x2="364.72" y2="170.92" stroke="#222" stroke-width="1"/>
<text x="364.72" y="179.12" font-size="7.4" font-weight="bold" fill="#111" text-anchor="middle"  stroke="#111" stroke-width="0.25">D34</text>
<line x1="387.06" y1="168.92" x2="387.06" y2="170.92" stroke="#222" stroke-width="1"/>
<text x="387.06" y="179.12" font-size="7.4" font-weight="bold" fill="#111" text-anchor="middle"  stroke="#111" stroke-width="0.25">D41</text>
<line x1="409.40" y1="168.92" x2="409.40" y2="170.92" stroke="#222" stroke-width="1"/>
<text x="409.40" y="179.12" font-size="7.4" font-weight="bold" fill="#111" text-anchor="middle"  stroke="#111" stroke-width="0.25">D48</text>
<line x1="431.74" y1="168.92" x2="431.74" y2="170.92" stroke="#222" stroke-width="1"/>
<text x="431.74" y="179.12" font-size="7.4" font-weight="bold" fill="#111" text-anchor="middle"  stroke="#111" stroke-width="0.25">D61</text>
<line x1="454.08" y1="168.92" x2="454.08" y2="170.92" stroke="#222" stroke-width="1"/>
<text x="454.08" y="179.12" font-size="7.4" font-weight="bold" fill="#111" text-anchor="middle"  stroke="#111" stroke-width="0.25">D68</text>
<text x="309.40" y="192.10" font-size="8.6" font-weight="bold" fill="#111" textLength="131.90" lengthAdjust="spacingAndGlyphs" stroke="#111" stroke-width="0.25">Days post MOLM14-luc injection</text>
<text x="-30.40" y="0" transform="translate(261.00,111.90) rotate(-90)" font-size="8.6" font-weight="bold" fill="#111" textLength="60.20" lengthAdjust="spacingAndGlyphs" stroke="#111" stroke-width="0.25">Total Flux [p/s]</text>
<text x="265.80" y="39.90" font-size="13.2" font-weight="bold" fill="#111" stroke-width="0.35" textLength="9.0" lengthAdjust="spacingAndGlyphs" stroke="#111">B</text>
<polyline points="53.40,301.41 75.24,322.74 97.08,325.56 118.92,298.80 140.76,288.36 162.60,276.39" fill="none" stroke="#969696" stroke-width="1.4" stroke-dasharray="1.7 2.4"/>
<polyline points="53.40,308.59 75.24,332.53 97.08,334.70 118.92,327.96 140.76,300.98 162.60,280.09 184.44,248.75" fill="none" stroke="#969696" stroke-width="1.4" stroke-dasharray="1.7 2.4"/>
<polyline points="53.40,310.77 75.24,324.48 97.08,333.62 118.92,329.26 140.76,323.17 162.60,317.08 184.44,272.47 206.28,258.76" fill="none" stroke="#969696" stroke-width="1.4" stroke-dasharray="1.7 2.4"/>
<polyline points="53.40,312.94 75.24,333.62 97.08,334.70 118.92,331.00 140.76,335.79 162.60,332.53 184.44,309.24 206.28,300.98" fill="none" stroke="#969696" stroke-width="1.4" stroke-dasharray="1.7 2.4"/>
<polyline points="53.40,315.12 75.24,334.70 97.08,335.79 118.92,334.70 140.76,336.23 162.60,333.62 184.44,326.44 206.28,332.53" fill="none" stroke="#969696" stroke-width="1.4" stroke-dasharray="1.7 2.4"/>
<polyline points="53.40,311.86 75.24,333.18 97.08,334.49 118.92,335.79 140.76,336.88 162.60,334.70 184.44,333.62 206.28,334.70" fill="none" stroke="#969696" stroke-width="1.4" stroke-dasharray="1.7 2.4"/>
<polyline points="53.40,314.03 75.24,335.79 97.08,336.88 118.92,336.88 140.76,337.53 162.60,335.79 184.44,335.79 206.28,336.88" fill="none" stroke="#969696" stroke-width="1.4" stroke-dasharray="1.7 2.4"/>
<polyline points="53.40,317.51 75.24,334.49 97.08,335.79 118.92,336.23 140.76,336.88 162.60,334.70 184.44,334.70 206.28,335.79" fill="none" stroke="#969696" stroke-width="1.4" stroke-dasharray="1.7 2.4"/>
<polyline points="53.40,309.68 75.24,335.36 97.08,336.23 118.92,335.36 140.76,335.79 162.60,334.05 184.44,336.88 206.28,337.53" fill="none" stroke="#969696" stroke-width="1.4" stroke-dasharray="1.7 2.4"/>
<polyline points="53.40,316.21 75.24,333.62 97.08,335.36 118.92,332.53 140.76,336.66 162.60,335.36 184.44,335.36 206.28,333.62" fill="none" stroke="#969696" stroke-width="1.4" stroke-dasharray="1.7 2.4"/>
<circle cx="53.40" cy="301.41" r="1.7" fill="#6a6a6a"/>
<circle cx="75.24" cy="322.74" r="1.7" fill="#6a6a6a"/>
<circle cx="97.08" cy="325.56" r="1.7" fill="#6a6a6a"/>
<circle cx="118.92" cy="298.80" r="1.7" fill="#6a6a6a"/>
<circle cx="140.76" cy="288.36" r="1.7" fill="#6a6a6a"/>
<circle cx="162.60" cy="276.39" r="1.7" fill="#6a6a6a"/>
<circle cx="53.40" cy="308.59" r="1.7" fill="#6a6a6a"/>
<circle cx="75.24" cy="332.53" r="1.7" fill="#6a6a6a"/>
<circle cx="97.08" cy="334.70" r="1.7" fill="#6a6a6a"/>
<circle cx="118.92" cy="327.96" r="1.7" fill="#6a6a6a"/>
<circle cx="140.76" cy="300.98" r="1.7" fill="#6a6a6a"/>
<circle cx="162.60" cy="280.09" r="1.7" fill="#6a6a6a"/>
<circle cx="184.44" cy="248.75" r="1.7" fill="#6a6a6a"/>
<circle cx="53.40" cy="310.77" r="1.7" fill="#6a6a6a"/>
<circle cx="75.24" cy="324.48" r="1.7" fill="#6a6a6a"/>
<circle cx="97.08" cy="333.62" r="1.7" fill="#6a6a6a"/>
<circle cx="118.92" cy="329.26" r="1.7" fill="#6a6a6a"/>
<circle cx="140.76" cy="323.17" r="1.7" fill="#6a6a6a"/>
<circle cx="162.60" cy="317.08" r="1.7" fill="#6a6a6a"/>
<circle cx="184.44" cy="272.47" r="1.7" fill="#6a6a6a"/>
<circle cx="206.28" cy="258.76" r="1.7" fill="#6a6a6a"/>
<circle cx="53.40" cy="312.94" r="1.7" fill="#6a6a6a"/>
<circle cx="75.24" cy="333.62" r="1.7" fill="#6a6a6a"/>
<circle cx="97.08" cy="334.70" r="1.7" fill="#6a6a6a"/>
<circle cx="118.92" cy="331.00" r="1.7" fill="#6a6a6a"/>
<circle cx="140.76" cy="335.79" r="1.7" fill="#6a6a6a"/>
<circle cx="162.60" cy="332.53" r="1.7" fill="#6a6a6a"/>
<circle cx="184.44" cy="309.24" r="1.7" fill="#6a6a6a"/>
<circle cx="206.28" cy="300.98" r="1.7" fill="#6a6a6a"/>
<circle cx="53.40" cy="315.12" r="1.7" fill="#6a6a6a"/>
<circle cx="75.24" cy="334.70" r="1.7" fill="#6a6a6a"/>
<circle cx="97.08" cy="335.79" r="1.7" fill="#6a6a6a"/>
<circle cx="118.92" cy="334.70" r="1.7" fill="#6a6a6a"/>
<circle cx="140.76" cy="336.23" r="1.7" fill="#6a6a6a"/>
<circle cx="162.60" cy="333.62" r="1.7" fill="#6a6a6a"/>
<circle cx="184.44" cy="326.44" r="1.7" fill="#6a6a6a"/>
<circle cx="206.28" cy="332.53" r="1.7" fill="#6a6a6a"/>
<circle cx="53.40" cy="311.86" r="1.7" fill="#6a6a6a"/>
<circle cx="75.24" cy="333.18" r="1.7" fill="#6a6a6a"/>
<circle cx="97.08" cy="334.49" r="1.7" fill="#6a6a6a"/>
<circle cx="118.92" cy="335.79" r="1.7" fill="#6a6a6a"/>
<circle cx="140.76" cy="336.88" r="1.7" fill="#6a6a6a"/>
<circle cx="162.60" cy="334.70" r="1.7" fill="#6a6a6a"/>
<circle cx="184.44" cy="333.62" r="1.7" fill="#6a6a6a"/>
<circle cx="206.28" cy="334.70" r="1.7" fill="#6a6a6a"/>
<circle cx="53.40" cy="314.03" r="1.7" fill="#6a6a6a"/>
<circle cx="75.24" cy="335.79" r="1.7" fill="#6a6a6a"/>
<circle cx="97.08" cy="336.88" r="1.7" fill="#6a6a6a"/>
<circle cx="118.92" cy="336.88" r="1.7" fill="#6a6a6a"/>
<circle cx="140.76" cy="337.53" r="1.7" fill="#6a6a6a"/>
<circle cx="162.60" cy="335.79" r="1.7" fill="#6a6a6a"/>
<circle cx="184.44" cy="335.79" r="1.7" fill="#6a6a6a"/>
<circle cx="206.28" cy="336.88" r="1.7" fill="#6a6a6a"/>
<circle cx="53.40" cy="317.51" r="1.7" fill="#6a6a6a"/>
<circle cx="75.24" cy="334.49" r="1.7" fill="#6a6a6a"/>
<circle cx="97.08" cy="335.79" r="1.7" fill="#6a6a6a"/>
<circle cx="118.92" cy="336.23" r="1.7" fill="#6a6a6a"/>
<circle cx="140.76" cy="336.88" r="1.7" fill="#6a6a6a"/>
<circle cx="162.60" cy="334.70" r="1.7" fill="#6a6a6a"/>
<circle cx="184.44" cy="334.70" r="1.7" fill="#6a6a6a"/>
<circle cx="206.28" cy="335.79" r="1.7" fill="#6a6a6a"/>
<circle cx="53.40" cy="309.68" r="1.7" fill="#6a6a6a"/>
<circle cx="75.24" cy="335.36" r="1.7" fill="#6a6a6a"/>
<circle cx="97.08" cy="336.23" r="1.7" fill="#6a6a6a"/>
<circle cx="118.92" cy="335.36" r="1.7" fill="#6a6a6a"/>
<circle cx="140.76" cy="335.79" r="1.7" fill="#6a6a6a"/>
<circle cx="162.60" cy="334.05" r="1.7" fill="#6a6a6a"/>
<circle cx="184.44" cy="336.88" r="1.7" fill="#6a6a6a"/>
<circle cx="206.28" cy="337.53" r="1.7" fill="#6a6a6a"/>
<circle cx="53.40" cy="316.21" r="1.7" fill="#6a6a6a"/>
<circle cx="75.24" cy="333.62" r="1.7" fill="#6a6a6a"/>
<circle cx="97.08" cy="335.36" r="1.7" fill="#6a6a6a"/>
<circle cx="118.92" cy="332.53" r="1.7" fill="#6a6a6a"/>
<circle cx="140.76" cy="336.66" r="1.7" fill="#6a6a6a"/>
<circle cx="162.60" cy="335.36" r="1.7" fill="#6a6a6a"/>
<circle cx="184.44" cy="335.36" r="1.7" fill="#6a6a6a"/>
<circle cx="206.28" cy="333.62" r="1.7" fill="#6a6a6a"/>
<polyline points="53.40,301.85 75.24,313.60 97.08,332.75 118.92,330.35 140.76,337.32 162.60,331.66 184.44,333.62 206.28,335.79" fill="none" stroke="#1a1a1a" stroke-width="1.25"/>
<polyline points="53.40,316.21 75.24,328.83 97.08,314.68 118.92,330.13 140.76,337.32 162.60,331.66 184.44,334.70 206.28,336.44" fill="none" stroke="#1a1a1a" stroke-width="1.25"/>
<polyline points="53.40,321.21 75.24,336.66 97.08,332.75 118.92,330.79 140.76,337.32 162.60,332.09 184.44,335.79 206.28,337.10" fill="none" stroke="#1a1a1a" stroke-width="1.25"/>
<polyline points="53.40,326.22 75.24,336.66 97.08,333.18 118.92,331.00 140.76,337.53 162.60,331.88 184.44,336.66 206.28,337.53" fill="none" stroke="#1a1a1a" stroke-width="1.25"/>
<rect x="51.70" y="300.15" width="3.4" height="3.4" fill="#111"/>
<rect x="73.54" y="311.90" width="3.4" height="3.4" fill="#111"/>
<rect x="95.38" y="331.05" width="3.4" height="3.4" fill="#111"/>
<rect x="117.22" y="328.65" width="3.4" height="3.4" fill="#111"/>
<rect x="139.06" y="335.62" width="3.4" height="3.4" fill="#111"/>
<rect x="160.90" y="329.96" width="3.4" height="3.4" fill="#111"/>
<rect x="182.74" y="331.92" width="3.4" height="3.4" fill="#111"/>
<rect x="204.58" y="334.09" width="3.4" height="3.4" fill="#111"/>
<rect x="51.70" y="314.51" width="3.4" height="3.4" fill="#111"/>
<rect x="73.54" y="327.13" width="3.4" height="3.4" fill="#111"/>
<rect x="95.38" y="312.98" width="3.4" height="3.4" fill="#111"/>
<rect x="117.22" y="328.43" width="3.4" height="3.4" fill="#111"/>
<rect x="139.06" y="335.62" width="3.4" height="3.4" fill="#111"/>
<rect x="160.90" y="329.96" width="3.4" height="3.4" fill="#111"/>
<rect x="182.74" y="333.00" width="3.4" height="3.4" fill="#111"/>
<rect x="204.58" y="334.74" width="3.4" height="3.4" fill="#111"/>
<rect x="51.70" y="319.51" width="3.4" height="3.4" fill="#111"/>
<rect x="73.54" y="334.96" width="3.4" height="3.4" fill="#111"/>
<rect x="95.38" y="331.05" width="3.4" height="3.4" fill="#111"/>
<rect x="117.22" y="329.09" width="3.4" height="3.4" fill="#111"/>
<rect x="139.06" y="335.62" width="3.4" height="3.4" fill="#111"/>
<rect x="160.90" y="330.39" width="3.4" height="3.4" fill="#111"/>
<rect x="182.74" y="334.09" width="3.4" height="3.4" fill="#111"/>
<rect x="204.58" y="335.40" width="3.4" height="3.4" fill="#111"/>
<rect x="51.70" y="324.52" width="3.4" height="3.4" fill="#111"/>
<rect x="73.54" y="334.96" width="3.4" height="3.4" fill="#111"/>
<rect x="95.38" y="331.48" width="3.4" height="3.4" fill="#111"/>
<rect x="117.22" y="329.30" width="3.4" height="3.4" fill="#111"/>
<rect x="139.06" y="335.83" width="3.4" height="3.4" fill="#111"/>
<rect x="160.90" y="330.18" width="3.4" height="3.4" fill="#111"/>
<rect x="182.74" y="334.96" width="3.4" height="3.4" fill="#111"/>
<rect x="204.58" y="335.83" width="3.4" height="3.4" fill="#111"/>
<line x1="41.30" y1="244.40" x2="41.30" y2="353.20" stroke="#2e2e2e" stroke-width="1.6"/>
<line x1="40.70" y1="353.20" x2="217.80" y2="353.20" stroke="#2e2e2e" stroke-width="1.6"/>
<line x1="39.10" y1="353.20" x2="41.30" y2="353.20" stroke="#222" stroke-width="1"/>
<line x1="40.10" y1="346.65" x2="41.30" y2="346.65" stroke="#444" stroke-width="0.6"/>
<line x1="40.10" y1="342.82" x2="41.30" y2="342.82" stroke="#444" stroke-width="0.6"/>
<line x1="40.10" y1="340.10" x2="41.30" y2="340.10" stroke="#444" stroke-width="0.6"/>
<line x1="40.10" y1="337.99" x2="41.30" y2="337.99" stroke="#444" stroke-width="0.6"/>
<line x1="40.10" y1="336.27" x2="41.30" y2="336.27" stroke="#444" stroke-width="0.6"/>
<line x1="40.10" y1="334.81" x2="41.30" y2="334.81" stroke="#444" stroke-width="0.6"/>
<line x1="40.10" y1="333.55" x2="41.30" y2="333.55" stroke="#444" stroke-width="0.6"/>
<line x1="40.10" y1="332.44" x2="41.30" y2="332.44" stroke="#444" stroke-width="0.6"/>
<text x="37.80" y="355.80" font-size="7" font-weight="bold" fill="#111" text-anchor="end" stroke="#111" stroke-width="0.25"><tspan>10</tspan><tspan font-size="4.2" dy="-2.9">5</tspan></text>
<line x1="39.10" y1="331.44" x2="41.30" y2="331.44" stroke="#222" stroke-width="1"/>
<line x1="40.10" y1="324.89" x2="41.30" y2="324.89" stroke="#444" stroke-width="0.6"/>
<line x1="40.10" y1="321.06" x2="41.30" y2="321.06" stroke="#444" stroke-width="0.6"/>
<line x1="40.10" y1="318.34" x2="41.30" y2="318.34" stroke="#444" stroke-width="0.6"/>
<line x1="40.10" y1="316.23" x2="41.30" y2="316.23" stroke="#444" stroke-width="0.6"/>
<line x1="40.10" y1="314.51" x2="41.30" y2="314.51" stroke="#444" stroke-width="0.6"/>
<line x1="40.10" y1="313.05" x2="41.30" y2="313.05" stroke="#444" stroke-width="0.6"/>
<line x1="40.10" y1="311.79" x2="41.30" y2="311.79" stroke="#444" stroke-width="0.6"/>
<line x1="40.10" y1="310.68" x2="41.30" y2="310.68" stroke="#444" stroke-width="0.6"/>
<text x="37.80" y="334.04" font-size="7" font-weight="bold" fill="#111" text-anchor="end" stroke="#111" stroke-width="0.25"><tspan>10</tspan><tspan font-size="4.2" dy="-2.9">6</tspan></text>
<line x1="39.10" y1="309.68" x2="41.30" y2="309.68" stroke="#222" stroke-width="1"/>
<line x1="40.10" y1="303.13" x2="41.30" y2="303.13" stroke="#444" stroke-width="0.6"/>
<line x1="40.10" y1="299.30" x2="41.30" y2="299.30" stroke="#444" stroke-width="0.6"/>
<line x1="40.10" y1="296.58" x2="41.30" y2="296.58" stroke="#444" stroke-width="0.6"/>
<line x1="40.10" y1="294.47" x2="41.30" y2="294.47" stroke="#444" stroke-width="0.6"/>
<line x1="40.10" y1="292.75" x2="41.30" y2="292.75" stroke="#444" stroke-width="0.6"/>
<line x1="40.10" y1="291.29" x2="41.30" y2="291.29" stroke="#444" stroke-width="0.6"/>
<line x1="40.10" y1="290.03" x2="41.30" y2="290.03" stroke="#444" stroke-width="0.6"/>
<line x1="40.10" y1="288.92" x2="41.30" y2="288.92" stroke="#444" stroke-width="0.6"/>
<text x="37.80" y="312.28" font-size="7" font-weight="bold" fill="#111" text-anchor="end" stroke="#111" stroke-width="0.25"><tspan>10</tspan><tspan font-size="4.2" dy="-2.9">7</tspan></text>
<line x1="39.10" y1="287.92" x2="41.30" y2="287.92" stroke="#222" stroke-width="1"/>
<line x1="40.10" y1="281.37" x2="41.30" y2="281.37" stroke="#444" stroke-width="0.6"/>
<line x1="40.10" y1="277.54" x2="41.30" y2="277.54" stroke="#444" stroke-width="0.6"/>
<line x1="40.10" y1="274.82" x2="41.30" y2="274.82" stroke="#444" stroke-width="0.6"/>
<line x1="40.10" y1="272.71" x2="41.30" y2="272.71" stroke="#444" stroke-width="0.6"/>
<line x1="40.10" y1="270.99" x2="41.30" y2="270.99" stroke="#444" stroke-width="0.6"/>
<line x1="40.10" y1="269.53" x2="41.30" y2="269.53" stroke="#444" stroke-width="0.6"/>
<line x1="40.10" y1="268.27" x2="41.30" y2="268.27" stroke="#444" stroke-width="0.6"/>
<line x1="40.10" y1="267.16" x2="41.30" y2="267.16" stroke="#444" stroke-width="0.6"/>
<text x="37.80" y="290.52" font-size="7" font-weight="bold" fill="#111" text-anchor="end" stroke="#111" stroke-width="0.25"><tspan>10</tspan><tspan font-size="4.2" dy="-2.9">8</tspan></text>
<line x1="39.10" y1="266.16" x2="41.30" y2="266.16" stroke="#222" stroke-width="1"/>
<line x1="40.10" y1="259.61" x2="41.30" y2="259.61" stroke="#444" stroke-width="0.6"/>
<line x1="40.10" y1="255.78" x2="41.30" y2="255.78" stroke="#444" stroke-width="0.6"/>
<line x1="40.10" y1="253.06" x2="41.30" y2="253.06" stroke="#444" stroke-width="0.6"/>
<line x1="40.10" y1="250.95" x2="41.30" y2="250.95" stroke="#444" stroke-width="0.6"/>
<line x1="40.10" y1="249.23" x2="41.30" y2="249.23" stroke="#444" stroke-width="0.6"/>
<line x1="40.10" y1="247.77" x2="41.30" y2="247.77" stroke="#444" stroke-width="0.6"/>
<line x1="40.10" y1="246.51" x2="41.30" y2="246.51" stroke="#444" stroke-width="0.6"/>
<line x1="40.10" y1="245.40" x2="41.30" y2="245.40" stroke="#444" stroke-width="0.6"/>
<text x="37.80" y="268.76" font-size="7" font-weight="bold" fill="#111" text-anchor="end" stroke="#111" stroke-width="0.25"><tspan>10</tspan><tspan font-size="4.2" dy="-2.9">9</tspan></text>
<line x1="39.10" y1="244.40" x2="41.30" y2="244.40" stroke="#222" stroke-width="1"/>
<text x="37.80" y="247.00" font-size="7" font-weight="bold" fill="#111" text-anchor="end" stroke="#111" stroke-width="0.25"><tspan>10</tspan><tspan font-size="4.2" dy="-2.9">10</tspan></text>
<line x1="53.40" y1="353.20" x2="53.40" y2="355.20" stroke="#222" stroke-width="1"/>
<text x="53.40" y="363.60" font-size="7.4" font-weight="bold" fill="#111" text-anchor="middle"  stroke="#111" stroke-width="0.25">D12</text>
<line x1="75.24" y1="353.20" x2="75.24" y2="355.20" stroke="#222" stroke-width="1"/>
<text x="75.24" y="363.60" font-size="7.4" font-weight="bold" fill="#111" text-anchor="middle"  stroke="#111" stroke-width="0.25">D20</text>
<line x1="97.08" y1="353.20" x2="97.08" y2="355.20" stroke="#222" stroke-width="1"/>
<text x="97.08" y="363.60" font-size="7.4" font-weight="bold" fill="#111" text-anchor="middle"  stroke="#111" stroke-width="0.25">D27</text>
<line x1="118.92" y1="353.20" x2="118.92" y2="355.20" stroke="#222" stroke-width="1"/>
<text x="118.92" y="363.60" font-size="7.4" font-weight="bold" fill="#111" text-anchor="middle"  stroke="#111" stroke-width="0.25">D34</text>
<line x1="140.76" y1="353.20" x2="140.76" y2="355.20" stroke="#222" stroke-width="1"/>
<text x="140.76" y="363.60" font-size="7.4" font-weight="bold" fill="#111" text-anchor="middle"  stroke="#111" stroke-width="0.25">D41</text>
<line x1="162.60" y1="353.20" x2="162.60" y2="355.20" stroke="#222" stroke-width="1"/>
<text x="162.60" y="363.60" font-size="7.4" font-weight="bold" fill="#111" text-anchor="middle"  stroke="#111" stroke-width="0.25">D48</text>
<line x1="184.44" y1="353.20" x2="184.44" y2="355.20" stroke="#222" stroke-width="1"/>
<text x="184.44" y="363.60" font-size="7.4" font-weight="bold" fill="#111" text-anchor="middle"  stroke="#111" stroke-width="0.25">D61</text>
<line x1="206.28" y1="353.20" x2="206.28" y2="355.20" stroke="#222" stroke-width="1"/>
<text x="206.28" y="363.60" font-size="7.4" font-weight="bold" fill="#111" text-anchor="middle"  stroke="#111" stroke-width="0.25">D68</text>
<text x="64.70" y="376.40" font-size="8.6" font-weight="bold" fill="#111" textLength="129.10" lengthAdjust="spacingAndGlyphs" stroke="#111" stroke-width="0.25">Days post MOLM14-luc injection</text>
<text x="-29.85" y="0" transform="translate(17.70,297.50) rotate(-90)" font-size="8.6" font-weight="bold" fill="#111" textLength="59.10" lengthAdjust="spacingAndGlyphs" stroke="#111" stroke-width="0.25">Total Flux [p/s]</text>
<text x="20.20" y="228.30" font-size="12.2" font-weight="bold" fill="#111" stroke-width="0.35" stroke="#111">C</text>
<polyline points="301.20,301.70 324.17,324.14 347.14,327.12 370.11,298.95 393.08,287.96 416.05,275.36" fill="none" stroke="#969696" stroke-width="1.4" stroke-dasharray="1.7 2.4"/>
<polyline points="301.20,309.25 324.17,334.44 347.14,336.74 370.11,329.64 393.08,301.24 416.05,279.26 439.02,246.28" fill="none" stroke="#969696" stroke-width="1.4" stroke-dasharray="1.7 2.4"/>
<polyline points="301.20,311.54 324.17,325.97 347.14,335.59 370.11,331.01 393.08,324.60 416.05,318.19 439.02,271.24 461.99,256.81" fill="none" stroke="#969696" stroke-width="1.4" stroke-dasharray="1.7 2.4"/>
<polyline points="301.20,313.83 324.17,335.59 347.14,336.74 370.11,332.84 393.08,337.88 416.05,334.44 439.02,309.94 461.99,301.24" fill="none" stroke="#969696" stroke-width="1.4" stroke-dasharray="1.7 2.4"/>
<polyline points="301.20,316.12 324.17,336.74 347.14,337.88 370.11,336.74 393.08,338.34 416.05,335.59 439.02,328.03 461.99,334.44" fill="none" stroke="#969696" stroke-width="1.4" stroke-dasharray="1.7 2.4"/>
<polyline points="301.20,312.69 324.17,335.13 347.14,336.51 370.11,337.88 393.08,339.02 416.05,336.74 439.02,335.59 461.99,336.74" fill="none" stroke="#969696" stroke-width="1.4" stroke-dasharray="1.7 2.4"/>
<polyline points="301.20,314.98 324.17,337.88 347.14,339.02 370.11,339.02 393.08,339.71 416.05,337.88 439.02,337.88 461.99,339.02" fill="none" stroke="#969696" stroke-width="1.4" stroke-dasharray="1.7 2.4"/>
<polyline points="301.20,318.64 324.17,336.51 347.14,337.88 370.11,338.34 393.08,339.02 416.05,336.74 439.02,336.74 461.99,337.88" fill="none" stroke="#969696" stroke-width="1.4" stroke-dasharray="1.7 2.4"/>
<polyline points="301.20,310.40 324.17,337.42 347.14,338.34 370.11,337.42 393.08,337.88 416.05,336.05 439.02,339.02 461.99,339.71" fill="none" stroke="#969696" stroke-width="1.4" stroke-dasharray="1.7 2.4"/>
<polyline points="301.20,317.27 324.17,335.59 347.14,337.42 370.11,334.44 393.08,338.80 416.05,337.42 439.02,337.42 461.99,335.59" fill="none" stroke="#969696" stroke-width="1.4" stroke-dasharray="1.7 2.4"/>
<circle cx="301.20" cy="301.70" r="1.7" fill="#6a6a6a"/>
<circle cx="324.17" cy="324.14" r="1.7" fill="#6a6a6a"/>
<circle cx="347.14" cy="327.12" r="1.7" fill="#6a6a6a"/>
<circle cx="370.11" cy="298.95" r="1.7" fill="#6a6a6a"/>
<circle cx="393.08" cy="287.96" r="1.7" fill="#6a6a6a"/>
<circle cx="416.05" cy="275.36" r="1.7" fill="#6a6a6a"/>
<circle cx="301.20" cy="309.25" r="1.7" fill="#6a6a6a"/>
<circle cx="324.17" cy="334.44" r="1.7" fill="#6a6a6a"/>
<circle cx="347.14" cy="336.74" r="1.7" fill="#6a6a6a"/>
<circle cx="370.11" cy="329.64" r="1.7" fill="#6a6a6a"/>
<circle cx="393.08" cy="301.24" r="1.7" fill="#6a6a6a"/>
<circle cx="416.05" cy="279.26" r="1.7" fill="#6a6a6a"/>
<circle cx="439.02" cy="246.28" r="1.7" fill="#6a6a6a"/>
<circle cx="301.20" cy="311.54" r="1.7" fill="#6a6a6a"/>
<circle cx="324.17" cy="325.97" r="1.7" fill="#6a6a6a"/>
<circle cx="347.14" cy="335.59" r="1.7" fill="#6a6a6a"/>
<circle cx="370.11" cy="331.01" r="1.7" fill="#6a6a6a"/>
<circle cx="393.08" cy="324.60" r="1.7" fill="#6a6a6a"/>
<circle cx="416.05" cy="318.19" r="1.7" fill="#6a6a6a"/>
<circle cx="439.02" cy="271.24" r="1.7" fill="#6a6a6a"/>
<circle cx="461.99" cy="256.81" r="1.7" fill="#6a6a6a"/>
<circle cx="301.20" cy="313.83" r="1.7" fill="#6a6a6a"/>
<circle cx="324.17" cy="335.59" r="1.7" fill="#6a6a6a"/>
<circle cx="347.14" cy="336.74" r="1.7" fill="#6a6a6a"/>
<circle cx="370.11" cy="332.84" r="1.7" fill="#6a6a6a"/>
<circle cx="393.08" cy="337.88" r="1.7" fill="#6a6a6a"/>
<circle cx="416.05" cy="334.44" r="1.7" fill="#6a6a6a"/>
<circle cx="439.02" cy="309.94" r="1.7" fill="#6a6a6a"/>
<circle cx="461.99" cy="301.24" r="1.7" fill="#6a6a6a"/>
<circle cx="301.20" cy="316.12" r="1.7" fill="#6a6a6a"/>
<circle cx="324.17" cy="336.74" r="1.7" fill="#6a6a6a"/>
<circle cx="347.14" cy="337.88" r="1.7" fill="#6a6a6a"/>
<circle cx="370.11" cy="336.74" r="1.7" fill="#6a6a6a"/>
<circle cx="393.08" cy="338.34" r="1.7" fill="#6a6a6a"/>
<circle cx="416.05" cy="335.59" r="1.7" fill="#6a6a6a"/>
<circle cx="439.02" cy="328.03" r="1.7" fill="#6a6a6a"/>
<circle cx="461.99" cy="334.44" r="1.7" fill="#6a6a6a"/>
<circle cx="301.20" cy="312.69" r="1.7" fill="#6a6a6a"/>
<circle cx="324.17" cy="335.13" r="1.7" fill="#6a6a6a"/>
<circle cx="347.14" cy="336.51" r="1.7" fill="#6a6a6a"/>
<circle cx="370.11" cy="337.88" r="1.7" fill="#6a6a6a"/>
<circle cx="393.08" cy="339.02" r="1.7" fill="#6a6a6a"/>
<circle cx="416.05" cy="336.74" r="1.7" fill="#6a6a6a"/>
<circle cx="439.02" cy="335.59" r="1.7" fill="#6a6a6a"/>
<circle cx="461.99" cy="336.74" r="1.7" fill="#6a6a6a"/>
<circle cx="301.20" cy="314.98" r="1.7" fill="#6a6a6a"/>
<circle cx="324.17" cy="337.88" r="1.7" fill="#6a6a6a"/>
<circle cx="347.14" cy="339.02" r="1.7" fill="#6a6a6a"/>
<circle cx="370.11" cy="339.02" r="1.7" fill="#6a6a6a"/>
<circle cx="393.08" cy="339.71" r="1.7" fill="#6a6a6a"/>
<circle cx="416.05" cy="337.88" r="1.7" fill="#6a6a6a"/>
<circle cx="439.02" cy="337.88" r="1.7" fill="#6a6a6a"/>
<circle cx="461.99" cy="339.02" r="1.7" fill="#6a6a6a"/>
<circle cx="301.20" cy="318.64" r="1.7" fill="#6a6a6a"/>
<circle cx="324.17" cy="336.51" r="1.7" fill="#6a6a6a"/>
<circle cx="347.14" cy="337.88" r="1.7" fill="#6a6a6a"/>
<circle cx="370.11" cy="338.34" r="1.7" fill="#6a6a6a"/>
<circle cx="393.08" cy="339.02" r="1.7" fill="#6a6a6a"/>
<circle cx="416.05" cy="336.74" r="1.7" fill="#6a6a6a"/>
<circle cx="439.02" cy="336.74" r="1.7" fill="#6a6a6a"/>
<circle cx="461.99" cy="337.88" r="1.7" fill="#6a6a6a"/>
<circle cx="301.20" cy="310.40" r="1.7" fill="#6a6a6a"/>
<circle cx="324.17" cy="337.42" r="1.7" fill="#6a6a6a"/>
<circle cx="347.14" cy="338.34" r="1.7" fill="#6a6a6a"/>
<circle cx="370.11" cy="337.42" r="1.7" fill="#6a6a6a"/>
<circle cx="393.08" cy="337.88" r="1.7" fill="#6a6a6a"/>
<circle cx="416.05" cy="336.05" r="1.7" fill="#6a6a6a"/>
<circle cx="439.02" cy="339.02" r="1.7" fill="#6a6a6a"/>
<circle cx="461.99" cy="339.71" r="1.7" fill="#6a6a6a"/>
<circle cx="301.20" cy="317.27" r="1.7" fill="#6a6a6a"/>
<circle cx="324.17" cy="335.59" r="1.7" fill="#6a6a6a"/>
<circle cx="347.14" cy="337.42" r="1.7" fill="#6a6a6a"/>
<circle cx="370.11" cy="334.44" r="1.7" fill="#6a6a6a"/>
<circle cx="393.08" cy="338.80" r="1.7" fill="#6a6a6a"/>
<circle cx="416.05" cy="337.42" r="1.7" fill="#6a6a6a"/>
<circle cx="439.02" cy="337.42" r="1.7" fill="#6a6a6a"/>
<circle cx="461.99" cy="335.59" r="1.7" fill="#6a6a6a"/>
<polyline points="301.20,307.65 324.17,333.76 347.14,333.76 370.11,336.51 393.08,333.07 416.05,329.41 439.02,301.47 461.99,295.74" fill="none" stroke="#1a1a1a" stroke-width="1.25"/>
<polyline points="301.20,312.69 324.17,340.17 347.14,336.74 370.11,337.42 393.08,339.02 416.05,336.28 439.02,335.59 461.99,323.45" fill="none" stroke="#1a1a1a" stroke-width="1.25"/>
<polyline points="301.20,319.79 324.17,340.17 347.14,336.51 370.11,336.96 393.08,339.02 416.05,336.51 439.02,339.02 461.99,339.71" fill="none" stroke="#1a1a1a" stroke-width="1.25"/>
<polyline points="301.20,321.39 324.17,338.80 347.14,336.05 370.11,337.19 393.08,339.25 416.05,336.05 439.02,337.88 461.99,339.02" fill="none" stroke="#1a1a1a" stroke-width="1.25"/>
<rect x="299.50" y="305.95" width="3.4" height="3.4" fill="#111"/>
<rect x="322.47" y="332.06" width="3.4" height="3.4" fill="#111"/>
<rect x="345.44" y="332.06" width="3.4" height="3.4" fill="#111"/>
<rect x="368.41" y="334.81" width="3.4" height="3.4" fill="#111"/>
<rect x="391.38" y="331.37" width="3.4" height="3.4" fill="#111"/>
<rect x="414.35" y="327.71" width="3.4" height="3.4" fill="#111"/>
<rect x="437.32" y="299.77" width="3.4" height="3.4" fill="#111"/>
<rect x="460.29" y="294.04" width="3.4" height="3.4" fill="#111"/>
<rect x="299.50" y="310.99" width="3.4" height="3.4" fill="#111"/>
<rect x="322.47" y="338.47" width="3.4" height="3.4" fill="#111"/>
<rect x="345.44" y="335.04" width="3.4" height="3.4" fill="#111"/>
<rect x="368.41" y="335.72" width="3.4" height="3.4" fill="#111"/>
<rect x="391.38" y="337.32" width="3.4" height="3.4" fill="#111"/>
<rect x="414.35" y="334.58" width="3.4" height="3.4" fill="#111"/>
<rect x="437.32" y="333.89" width="3.4" height="3.4" fill="#111"/>
<rect x="460.29" y="321.75" width="3.4" height="3.4" fill="#111"/>
<rect x="299.50" y="318.09" width="3.4" height="3.4" fill="#111"/>
<rect x="322.47" y="338.47" width="3.4" height="3.4" fill="#111"/>
<rect x="345.44" y="334.81" width="3.4" height="3.4" fill="#111"/>
<rect x="368.41" y="335.26" width="3.4" height="3.4" fill="#111"/>
<rect x="391.38" y="337.32" width="3.4" height="3.4" fill="#111"/>
<rect x="414.35" y="334.81" width="3.4" height="3.4" fill="#111"/>
<rect x="437.32" y="337.32" width="3.4" height="3.4" fill="#111"/>
<rect x="460.29" y="338.01" width="3.4" height="3.4" fill="#111"/>
<rect x="299.50" y="319.69" width="3.4" height="3.4" fill="#111"/>
<rect x="322.47" y="337.10" width="3.4" height="3.4" fill="#111"/>
<rect x="345.44" y="334.35" width="3.4" height="3.4" fill="#111"/>
<rect x="368.41" y="335.49" width="3.4" height="3.4" fill="#111"/>
<rect x="391.38" y="337.55" width="3.4" height="3.4" fill="#111"/>
<rect x="414.35" y="334.35" width="3.4" height="3.4" fill="#111"/>
<rect x="437.32" y="336.18" width="3.4" height="3.4" fill="#111"/>
<rect x="460.29" y="337.32" width="3.4" height="3.4" fill="#111"/>
<line x1="288.50" y1="241.70" x2="288.50" y2="356.20" stroke="#2e2e2e" stroke-width="1.6"/>
<line x1="287.90" y1="356.20" x2="473.60" y2="356.20" stroke="#2e2e2e" stroke-width="1.6"/>
<line x1="286.30" y1="356.20" x2="288.50" y2="356.20" stroke="#222" stroke-width="1"/>
<line x1="287.30" y1="349.31" x2="288.50" y2="349.31" stroke="#444" stroke-width="0.6"/>
<line x1="287.30" y1="345.27" x2="288.50" y2="345.27" stroke="#444" stroke-width="0.6"/>
<line x1="287.30" y1="342.41" x2="288.50" y2="342.41" stroke="#444" stroke-width="0.6"/>
<line x1="287.30" y1="340.19" x2="288.50" y2="340.19" stroke="#444" stroke-width="0.6"/>
<line x1="287.30" y1="338.38" x2="288.50" y2="338.38" stroke="#444" stroke-width="0.6"/>
<line x1="287.30" y1="336.85" x2="288.50" y2="336.85" stroke="#444" stroke-width="0.6"/>
<line x1="287.30" y1="335.52" x2="288.50" y2="335.52" stroke="#444" stroke-width="0.6"/>
<line x1="287.30" y1="334.35" x2="288.50" y2="334.35" stroke="#444" stroke-width="0.6"/>
<text x="285.00" y="358.80" font-size="7" font-weight="bold" fill="#111" text-anchor="end" stroke="#111" stroke-width="0.25"><tspan>10</tspan><tspan font-size="4.2" dy="-2.9">5</tspan></text>
<line x1="286.30" y1="333.30" x2="288.50" y2="333.30" stroke="#222" stroke-width="1"/>
<line x1="287.30" y1="326.41" x2="288.50" y2="326.41" stroke="#444" stroke-width="0.6"/>
<line x1="287.30" y1="322.37" x2="288.50" y2="322.37" stroke="#444" stroke-width="0.6"/>
<line x1="287.30" y1="319.51" x2="288.50" y2="319.51" stroke="#444" stroke-width="0.6"/>
<line x1="287.30" y1="317.29" x2="288.50" y2="317.29" stroke="#444" stroke-width="0.6"/>
<line x1="287.30" y1="315.48" x2="288.50" y2="315.48" stroke="#444" stroke-width="0.6"/>
<line x1="287.30" y1="313.95" x2="288.50" y2="313.95" stroke="#444" stroke-width="0.6"/>
<line x1="287.30" y1="312.62" x2="288.50" y2="312.62" stroke="#444" stroke-width="0.6"/>
<line x1="287.30" y1="311.45" x2="288.50" y2="311.45" stroke="#444" stroke-width="0.6"/>
<text x="285.00" y="335.90" font-size="7" font-weight="bold" fill="#111" text-anchor="end" stroke="#111" stroke-width="0.25"><tspan>10</tspan><tspan font-size="4.2" dy="-2.9">6</tspan></text>
<line x1="286.30" y1="310.40" x2="288.50" y2="310.40" stroke="#222" stroke-width="1"/>
<line x1="287.30" y1="303.51" x2="288.50" y2="303.51" stroke="#444" stroke-width="0.6"/>
<line x1="287.30" y1="299.47" x2="288.50" y2="299.47" stroke="#444" stroke-width="0.6"/>
<line x1="287.30" y1="296.61" x2="288.50" y2="296.61" stroke="#444" stroke-width="0.6"/>
<line x1="287.30" y1="294.39" x2="288.50" y2="294.39" stroke="#444" stroke-width="0.6"/>
<line x1="287.30" y1="292.58" x2="288.50" y2="292.58" stroke="#444" stroke-width="0.6"/>
<line x1="287.30" y1="291.05" x2="288.50" y2="291.05" stroke="#444" stroke-width="0.6"/>
<line x1="287.30" y1="289.72" x2="288.50" y2="289.72" stroke="#444" stroke-width="0.6"/>
<line x1="287.30" y1="288.55" x2="288.50" y2="288.55" stroke="#444" stroke-width="0.6"/>
<text x="285.00" y="313.00" font-size="7" font-weight="bold" fill="#111" text-anchor="end" stroke="#111" stroke-width="0.25"><tspan>10</tspan><tspan font-size="4.2" dy="-2.9">7</tspan></text>
<line x1="286.30" y1="287.50" x2="288.50" y2="287.50" stroke="#222" stroke-width="1"/>
<line x1="287.30" y1="280.61" x2="288.50" y2="280.61" stroke="#444" stroke-width="0.6"/>
<line x1="287.30" y1="276.57" x2="288.50" y2="276.57" stroke="#444" stroke-width="0.6"/>
<line x1="287.30" y1="273.71" x2="288.50" y2="273.71" stroke="#444" stroke-width="0.6"/>
<line x1="287.30" y1="271.49" x2="288.50" y2="271.49" stroke="#444" stroke-width="0.6"/>
<line x1="287.30" y1="269.68" x2="288.50" y2="269.68" stroke="#444" stroke-width="0.6"/>
<line x1="287.30" y1="268.15" x2="288.50" y2="268.15" stroke="#444" stroke-width="0.6"/>
<line x1="287.30" y1="266.82" x2="288.50" y2="266.82" stroke="#444" stroke-width="0.6"/>
<line x1="287.30" y1="265.65" x2="288.50" y2="265.65" stroke="#444" stroke-width="0.6"/>
<text x="285.00" y="290.10" font-size="7" font-weight="bold" fill="#111" text-anchor="end" stroke="#111" stroke-width="0.25"><tspan>10</tspan><tspan font-size="4.2" dy="-2.9">8</tspan></text>
<line x1="286.30" y1="264.60" x2="288.50" y2="264.60" stroke="#222" stroke-width="1"/>
<line x1="287.30" y1="257.71" x2="288.50" y2="257.71" stroke="#444" stroke-width="0.6"/>
<line x1="287.30" y1="253.67" x2="288.50" y2="253.67" stroke="#444" stroke-width="0.6"/>
<line x1="287.30" y1="250.81" x2="288.50" y2="250.81" stroke="#444" stroke-width="0.6"/>
<line x1="287.30" y1="248.59" x2="288.50" y2="248.59" stroke="#444" stroke-width="0.6"/>
<line x1="287.30" y1="246.78" x2="288.50" y2="246.78" stroke="#444" stroke-width="0.6"/>
<line x1="287.30" y1="245.25" x2="288.50" y2="245.25" stroke="#444" stroke-width="0.6"/>
<line x1="287.30" y1="243.92" x2="288.50" y2="243.92" stroke="#444" stroke-width="0.6"/>
<line x1="287.30" y1="242.75" x2="288.50" y2="242.75" stroke="#444" stroke-width="0.6"/>
<text x="285.00" y="267.20" font-size="7" font-weight="bold" fill="#111" text-anchor="end" stroke="#111" stroke-width="0.25"><tspan>10</tspan><tspan font-size="4.2" dy="-2.9">9</tspan></text>
<line x1="286.30" y1="241.70" x2="288.50" y2="241.70" stroke="#222" stroke-width="1"/>
<text x="285.00" y="244.30" font-size="7" font-weight="bold" fill="#111" text-anchor="end" stroke="#111" stroke-width="0.25"><tspan>10</tspan><tspan font-size="4.2" dy="-2.9">10</tspan></text>
<line x1="301.20" y1="356.20" x2="301.20" y2="358.20" stroke="#222" stroke-width="1"/>
<text x="301.20" y="366.90" font-size="7.4" font-weight="bold" fill="#111" text-anchor="middle"  stroke="#111" stroke-width="0.25">D12</text>
<line x1="324.17" y1="356.20" x2="324.17" y2="358.20" stroke="#222" stroke-width="1"/>
<text x="324.17" y="366.90" font-size="7.4" font-weight="bold" fill="#111" text-anchor="middle"  stroke="#111" stroke-width="0.25">D20</text>
<line x1="347.14" y1="356.20" x2="347.14" y2="358.20" stroke="#222" stroke-width="1"/>
<text x="347.14" y="366.90" font-size="7.4" font-weight="bold" fill="#111" text-anchor="middle"  stroke="#111" stroke-width="0.25">D27</text>
<line x1="370.11" y1="356.20" x2="370.11" y2="358.20" stroke="#222" stroke-width="1"/>
<text x="370.11" y="366.90" font-size="7.4" font-weight="bold" fill="#111" text-anchor="middle"  stroke="#111" stroke-width="0.25">D34</text>
<line x1="393.08" y1="356.20" x2="393.08" y2="358.20" stroke="#222" stroke-width="1"/>
<text x="393.08" y="366.90" font-size="7.4" font-weight="bold" fill="#111" text-anchor="middle"  stroke="#111" stroke-width="0.25">D41</text>
<line x1="416.05" y1="356.20" x2="416.05" y2="358.20" stroke="#222" stroke-width="1"/>
<text x="416.05" y="366.90" font-size="7.4" font-weight="bold" fill="#111" text-anchor="middle"  stroke="#111" stroke-width="0.25">D48</text>
<line x1="439.02" y1="356.20" x2="439.02" y2="358.20" stroke="#222" stroke-width="1"/>
<text x="439.02" y="366.90" font-size="7.4" font-weight="bold" fill="#111" text-anchor="middle"  stroke="#111" stroke-width="0.25">D61</text>
<line x1="461.99" y1="356.20" x2="461.99" y2="358.20" stroke="#222" stroke-width="1"/>
<text x="461.99" y="366.90" font-size="7.4" font-weight="bold" fill="#111" text-anchor="middle"  stroke="#111" stroke-width="0.25">D68</text>
<text x="313.70" y="380.20" font-size="8.6" font-weight="bold" fill="#111" textLength="134.90" lengthAdjust="spacingAndGlyphs" stroke="#111" stroke-width="0.25">Days post MOLM14-luc injection</text>
<text x="-31.15" y="0" transform="translate(264.20,297.60) rotate(-90)" font-size="8.6" font-weight="bold" fill="#111" textLength="61.70" lengthAdjust="spacingAndGlyphs" stroke="#111" stroke-width="0.25">Total Flux [p/s]</text>
<text x="271.50" y="227.80" font-size="12.5" font-weight="bold" fill="#111" stroke-width="0.35" stroke="#111">D</text>
<line x1="47.5" y1="41.5" x2="57.5" y2="41.5" stroke="#9a9a9a" stroke-width="1" stroke-dasharray="1.5 1.8"/>
<circle cx="52.5" cy="41.5" r="1.4" fill="#6a6a6a"/>
<text x="60.5" y="44.9" font-size="8" font-weight="bold" fill="#111" textLength="72" lengthAdjust="spacingAndGlyphs" stroke="#111" stroke-width="0.25">CART123 0.5x10(6)</text>
<text x="135" y="46" font-size="8.8" fill="#8f8f8f" stroke-width="0.45" textLength="35" lengthAdjust="spacingAndGlyphs" stroke="#8f8f8f">CR=45%</text>
<line x1="285.5" y1="36.7" x2="294" y2="36.7" stroke="#9a9a9a" stroke-width="1" stroke-dasharray="1.5 1.8"/>
<circle cx="289.75" cy="36.7" r="1.4" fill="#6a6a6a"/>
<line x1="285.5" y1="47.2" x2="294" y2="47.2" stroke="#111" stroke-width="1.1"/>
<rect x="287.95" y="45.400000000000006" width="3.6" height="3.6" fill="#111"/>
<text x="299.5" y="40.2" font-size="8" font-weight="bold" fill="#111" textLength="70" lengthAdjust="spacingAndGlyphs" stroke="#111" stroke-width="0.25">CART123 0.5x10(6)</text>
<text x="371.6" y="41.2" font-size="8.8" fill="#8f8f8f" stroke-width="0.45" textLength="35" lengthAdjust="spacingAndGlyphs" stroke="#8f8f8f">CR=45%</text>
<text x="299.5" y="50.3" font-size="8" font-weight="bold" fill="#111" textLength="100.7" lengthAdjust="spacingAndGlyphs" stroke="#111" stroke-width="0.25">CART123 0.5x10(6) + PD1iE</text>
<text x="402.8" y="50.3" font-size="8.6" font-weight="bold" fill="#111" textLength="35.3" lengthAdjust="spacingAndGlyphs" stroke="#111" stroke-width="0.25">CR=80%</text>
<line x1="40.9" y1="221.3" x2="50.4" y2="221.3" stroke="#9a9a9a" stroke-width="1" stroke-dasharray="1.5 1.8"/>
<circle cx="45.65" cy="221.3" r="1.4" fill="#6a6a6a"/>
<line x1="40.9" y1="231.3" x2="50.4" y2="231.3" stroke="#111" stroke-width="1.1"/>
<rect x="43.85" y="229.5" width="3.6" height="3.6" fill="#111"/>
<text x="54.6" y="223.1" font-size="8" font-weight="bold" fill="#111" textLength="68.1" lengthAdjust="spacingAndGlyphs" stroke="#111" stroke-width="0.25">CART123 0.5x10(6)</text>
<text x="127.8" y="224.6" font-size="8.8" fill="#8f8f8f" stroke-width="0.45" textLength="34.6" lengthAdjust="spacingAndGlyphs" stroke="#8f8f8f">CR=45%</text>
<text x="54.6" y="233.4" font-size="8" font-weight="bold" fill="#111" textLength="100.9" lengthAdjust="spacingAndGlyphs" stroke="#111" stroke-width="0.25">CART123 0.5x10(6) + TIM3iE</text>
<text x="160.7" y="233.9" font-size="8.6" font-weight="bold" fill="#111" textLength="39.7" lengthAdjust="spacingAndGlyphs" stroke="#111" stroke-width="0.25">CR=100%</text>
<line x1="288.8" y1="218.7" x2="296.5" y2="218.7" stroke="#9a9a9a" stroke-width="1" stroke-dasharray="1.5 1.8"/>
<circle cx="292.65" cy="218.7" r="1.4" fill="#6a6a6a"/>
<line x1="288.8" y1="229.2" x2="296.5" y2="229.2" stroke="#111" stroke-width="1.1"/>
<rect x="290.84999999999997" y="227.39999999999998" width="3.6" height="3.6" fill="#111"/>
<text x="303.3" y="221.0" font-size="8" font-weight="bold" fill="#111" textLength="72.9" lengthAdjust="spacingAndGlyphs" stroke="#111" stroke-width="0.25">CART123 0.5x10(6)</text>
<text x="378.2" y="222" font-size="8.8" fill="#8f8f8f" stroke-width="0.45" textLength="34" lengthAdjust="spacingAndGlyphs" stroke="#8f8f8f">CR=45%</text>
<text x="303.3" y="231.9" font-size="8" font-weight="bold" fill="#111" textLength="130.6" lengthAdjust="spacingAndGlyphs" stroke="#111" stroke-width="0.25">CART123 0.5x10(6)+PD1iE+TIM3iE</text>
<text x="439.4" y="232" font-size="8.6" font-weight="bold" fill="#111" textLength="33.8" lengthAdjust="spacingAndGlyphs" stroke="#111" stroke-width="0.25">CR=80%</text>
</svg>
</body></html>
